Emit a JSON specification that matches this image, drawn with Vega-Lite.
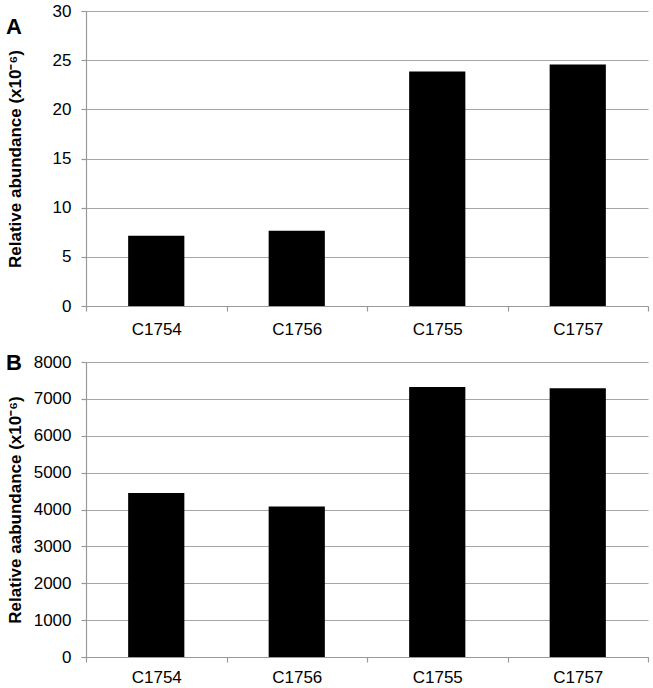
{
  "$schema": "https://vega.github.io/schema/vega-lite/v6.json",
  "background": "white",
  "padding": {"left": 6, "top": 2, "right": 3, "bottom": 0},
  "config": {
    "font": "Liberation Sans",
    "view": {"stroke": null},
    "axis": {
      "labelFont": "Liberation Sans",
      "labelFontSize": 17,
      "labelColor": "#000000",
      "titleFont": "Liberation Sans",
      "titleColor": "#000000",
      "domainColor": "#999999",
      "tickColor": "#999999",
      "gridColor": "#a6a6a6",
      "tickSize": 5,
      "domainWidth": 1.2,
      "tickWidth": 1.2,
      "gridWidth": 1.2
    },
    "concat": {"spacing": 15}
  },
  "datasets": {
    "a": [
      {"sample": "C1754", "value": 7.15},
      {"sample": "C1756", "value": 7.65},
      {"sample": "C1755", "value": 23.85},
      {"sample": "C1757", "value": 24.55}
    ],
    "b": [
      {"sample": "C1754", "value": 4450},
      {"sample": "C1756", "value": 4080},
      {"sample": "C1755", "value": 7320},
      {"sample": "C1757", "value": 7290}
    ]
  },
  "vconcat": [
    {
      "width": 562,
      "height": 295,
      "title": {"text": "A", "anchor": "start", "frame": "bounds", "fontSize": 22, "fontWeight": "bold", "color": "#000000", "offset": -37},
      "data": {"name": "a"},
      "mark": {"type": "bar", "color": "#000000", "width": {"band": 0.4}},
      "encoding": {
        "x": {
          "field": "sample", "type": "nominal", "sort": null,
          "scale": {"paddingInner": 0, "paddingOuter": 0},
          "axis": {"title": null, "labelAngle": 0, "tickBand": "extent", "grid": false, "labelPadding": 10}
        },
        "y": {
          "field": "value", "type": "quantitative",
          "scale": {"domain": [0, 30]},
          "axis": {
            "title": "Relative abundance (x10⁻⁶)",
            "values": [0, 5, 10, 15, 20, 25, 30],
            "format": "d",
            "grid": true, "minExtent": 55, "maxExtent": 55,
            "labelPadding": 10,
            "titleFontSize": 17, "titleFontWeight": "bold", "titlePadding": 7
          }
        }
      }
    },
    {
      "width": 562,
      "height": 295,
      "title": {"text": "B", "anchor": "start", "frame": "bounds", "fontSize": 22, "fontWeight": "bold", "color": "#000000", "offset": -22},
      "data": {"name": "b"},
      "mark": {"type": "bar", "color": "#000000", "width": {"band": 0.4}},
      "encoding": {
        "x": {
          "field": "sample", "type": "nominal", "sort": null,
          "scale": {"paddingInner": 0, "paddingOuter": 0},
          "axis": {"title": null, "labelAngle": 0, "tickBand": "extent", "grid": false, "labelPadding": 7}
        },
        "y": {
          "field": "value", "type": "quantitative",
          "scale": {"domain": [0, 8000]},
          "axis": {
            "title": "Relative aabundance (x10⁻⁶)",
            "values": [0, 1000, 2000, 3000, 4000, 5000, 6000, 7000, 8000],
            "format": "d",
            "grid": true, "minExtent": 55, "maxExtent": 55,
            "labelPadding": 10,
            "titleFontSize": 17, "titleFontWeight": "bold", "titlePadding": 7
          }
        }
      }
    }
  ]
}
